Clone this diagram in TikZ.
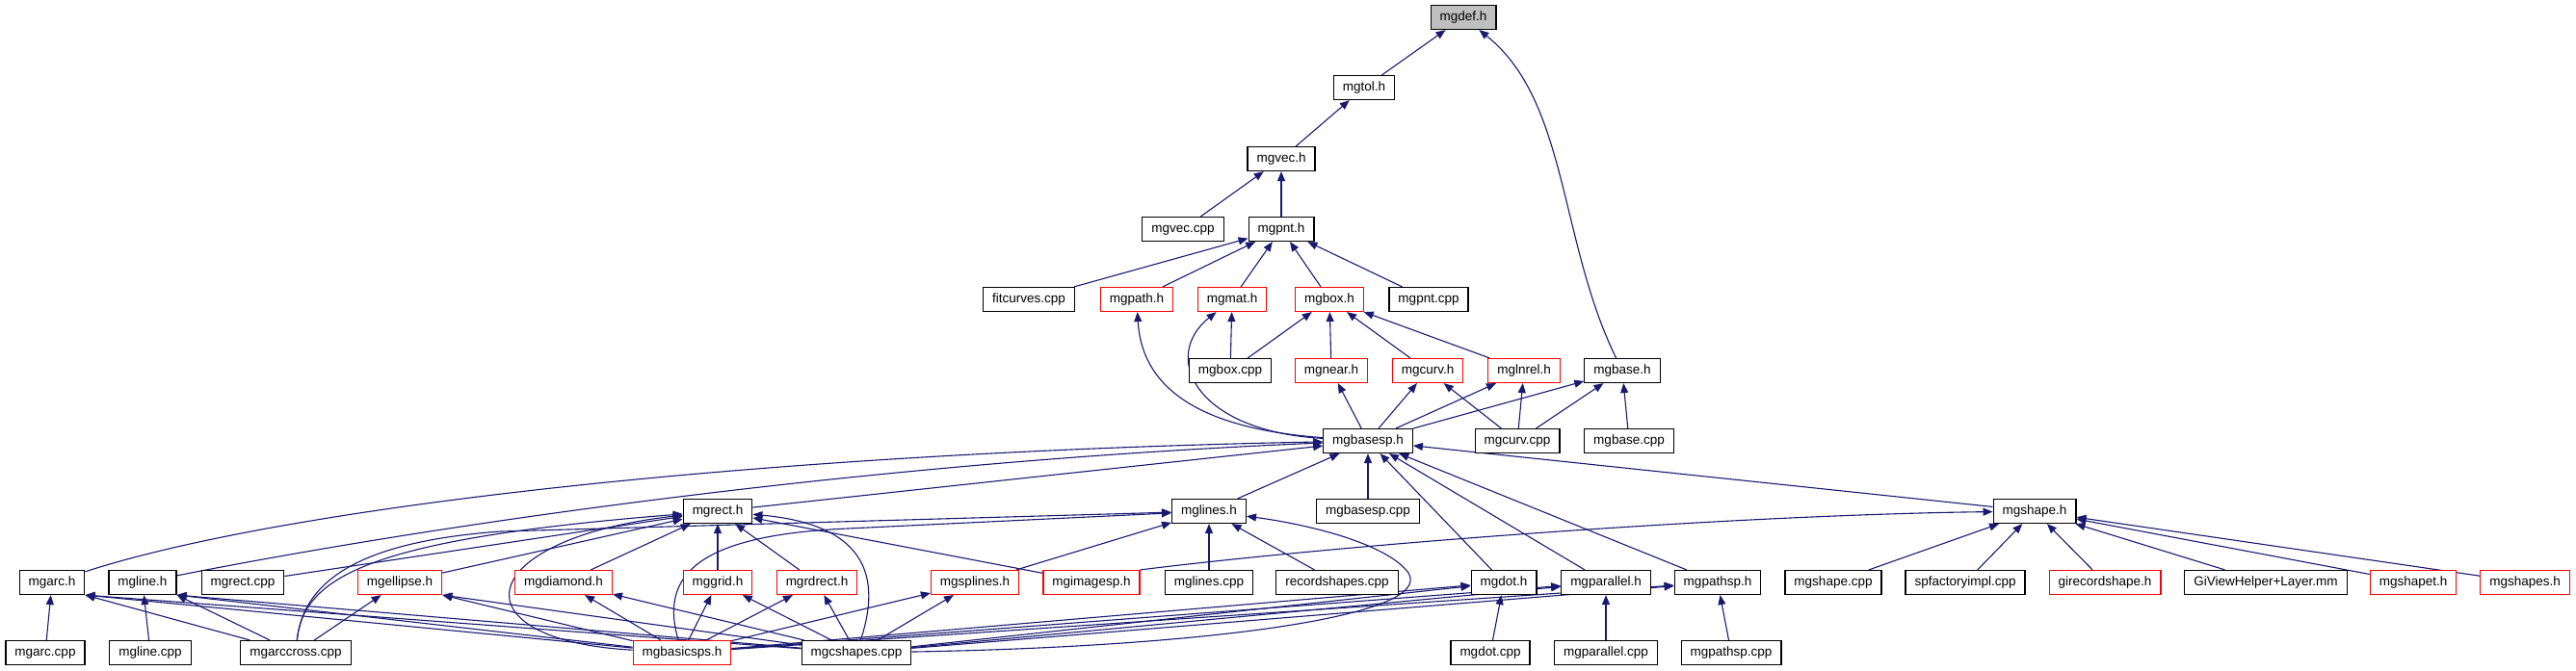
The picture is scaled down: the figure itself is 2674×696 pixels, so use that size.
\documentclass[tikz,border=0pt]{standalone}
\usepackage{fontspec}
\setmainfont{Liberation Sans}
\usetikzlibrary{arrows.meta, backgrounds}
\definecolor{edgeblue}{HTML}{191970}
\definecolor{rootgray}{HTML}{BFBFBF}

\begin{document}
\begin{tikzpicture}[
    x=1pt, y=-1pt,
    file/.style={draw=black, rectangle, fill=white, line width=1.2pt, minimum height=25pt, inner xsep=9.5pt, inner ysep=0pt, text height=10pt, text depth=3pt, font=\fontsize{13.5}{16}\selectfont},
    redfile/.style={file, draw=red},
    edge/.style={-{Triangle[length=10pt,width=8pt]}, draw=edgeblue, fill=none, line width=1.1pt}
]
\useasboundingbox (0,0) rectangle (2674,696);

% Nodes
\node (mgdef) [file, fill=rootgray] at (1519,18) {mgdef.h};
\node (mgtol) [file] at (1416,91) {mgtol.h};
\node (mgvec) [file] at (1330,165) {mgvec.h};
\node (mgveccpp) [file] at (1228,238) {mgvec.cpp};
\node (mgpnt) [file] at (1330,238) {mgpnt.h};

\node (fitcurves) [file] at (1068,311) {fitcurves.cpp};
\node (mgpath) [redfile] at (1180,311) {mgpath.h};
\node (mgmat) [redfile] at (1279,311) {mgmat.h};
\node (mgbox) [redfile] at (1380,311) {mgbox.h};
\node (mgpntcpp) [file] at (1483,311) {mgpnt.cpp};

\node (mgboxcpp) [file] at (1277,385) {mgbox.cpp};
\node (mgnear) [redfile] at (1382,385) {mgnear.h};
\node (mgcurv) [redfile] at (1482,385) {mgcurv.h};
\node (mglnrel) [redfile] at (1582,385) {mglnrel.h};
\node (mgbase) [file] at (1684,385) {mgbase.h};

\node (mgbasesp) [file] at (1420,458) {mgbasesp.h};
\node (mgcurvcpp) [file] at (1575,458) {mgcurv.cpp};
\node (mgbasecpp) [file] at (1691,458) {mgbase.cpp};

\node (mgrect) [file] at (745,531) {mgrect.h};
\node (mglines) [file] at (1255,531) {mglines.h};
\node (mgbasespcpp) [file] at (1420,531) {mgbasesp.cpp};
\node (mgshape) [file] at (2112,531) {mgshape.h};

\node (mgarc) [file] at (54,605) {mgarc.h};
\node (mgline) [file] at (148,605) {mgline.h};
\node (mgrectcpp) [file] at (252,605) {mgrect.cpp};
\node (mgellipse) [redfile] at (415,605) {mgellipse.h};
\node (mgdiamond) [redfile] at (585,605) {mgdiamond.h};
\node (mggrid) [redfile] at (745,605) {mggrid.h};
\node (mgrdrect) [redfile] at (848,605) {mgrdrect.h};
\node (mgsplines) [redfile] at (1012,605) {mgsplines.h};
\node (mgimagesp) [redfile] at (1133,605) {mgimagesp.h};
\node (mglinescpp) [file] at (1255,605) {mglines.cpp};
\node (recordshapes) [file] at (1388,605) {recordshapes.cpp};
\node (mgdot) [file] at (1561,605) {mgdot.h};
\node (mgparallel) [file] at (1667,605) {mgparallel.h};
\node (mgpathsp) [file] at (1783,605) {mgpathsp.h};
\node (mgshapecpp) [file] at (1903,605) {mgshape.cpp};
\node (spfactory) [file] at (2040,605) {spfactoryimpl.cpp};
\node (girecord) [redfile] at (2185,605) {girecordshape.h};
\node (giview) [file] at (2352,605) {GiViewHelper+Layer.mm};
\node (mgshapet) [redfile] at (2505,605) {mgshapet.h};
\node (mgshapes) [redfile] at (2621,605) {mgshapes.h};

\node (mgarccpp) [file] at (47,678) {mgarc.cpp};
\node (mglinecpp) [file] at (156,678) {mgline.cpp};
\node (mgarccross) [file] at (307,678) {mgarccross.cpp};
\node (mgbasicsps) [redfile] at (708,678) {mgbasicsps.h};
\node (mgcshapes) [file] at (889,678) {mgcshapes.cpp};
\node (mgdotcpp) [file] at (1547,678) {mgdot.cpp};
\node (mgparallelcpp) [file] at (1667,678) {mgparallel.cpp};
\node (mgpathspcpp) [file] at (1797,678) {mgpathsp.cpp};

\begin{pgfonlayer}{background}
% Arrows (upper part)
\draw [edge] (mgtol) -- (mgdef);
\draw [edge] (mgbase) .. controls (1618,250) and (1628,105) .. (mgdef);
\draw [edge] (mgvec) -- (mgtol);
\draw [edge] (mgveccpp) -- (mgvec);
\draw [edge] (mgpnt) -- (mgvec);
\draw [edge] (fitcurves) -- (mgpnt);
\draw [edge] (mgpath) -- (mgpnt);
\draw [edge] (mgmat) -- (mgpnt);
\draw [edge] (mgbox) -- (mgpnt);
\draw [edge] (mgpntcpp) -- (mgpnt);
\draw [edge] (mgboxcpp) -- (mgmat);
\draw [edge] (mgboxcpp) -- (mgbox);
\draw [edge] (mgnear) -- (mgbox);
\draw [edge] (mgcurv) -- (mgbox);
\draw [edge] (mglnrel) -- (mgbox);
\draw [edge] (mgbasesp) .. controls (1240,445) and (1185,400) .. (mgpath);
\draw [edge] (mgbasesp) .. controls (1240,448) and (1205,370) .. (mgmat);
\draw [edge] (mgbasesp) -- (mgnear);
\draw [edge] (mgbasesp) -- (mgcurv);
\draw [edge] (mgbasesp) -- (mglnrel);
\draw [edge] (mgbasesp) -- (mgbase);
\draw [edge] (mgcurvcpp) -- (mgcurv);
\draw [edge] (mgcurvcpp) -- (mglnrel);
\draw [edge] (mgcurvcpp) -- (mgbase);
\draw [edge] (mgbasecpp) -- (mgbase);

% Arrows into mgbasesp.h
\draw [edge] (mgarc) .. controls (300,525) and (800,470) .. (mgbasesp);
\draw [edge] (mgline) .. controls (450,545) and (900,480) .. (mgbasesp);
\draw [edge] (mgrect) -- (mgbasesp);
\draw [edge] (mglines) -- (mgbasesp);
\draw [edge] (mgbasespcpp) -- (mgbasesp);
\draw [edge] (mgdot) -- (mgbasesp);
\draw [edge] (mgparallel) -- (mgbasesp);
\draw [edge] (mgpathsp) -- (mgbasesp);
\draw [edge] (mgshape) -- (mgbasesp);

% Arrows into mgrect.h and mglines.h
\draw [edge] (mgrectcpp) -- (mgrect);
\draw [edge] (mgellipse) -- (mgrect);
\draw [edge] (mgdiamond) -- (mgrect);
\draw [edge] (mggrid) -- (mgrect);
\draw [edge] (mgrdrect) -- (mgrect);
\draw [edge] (mgimagesp) -- (mgrect);
\draw [edge] (mgarccross) .. controls (315,600) and (380,560) .. (mgrect);
\draw [edge] (mgbasicsps) .. controls (470,665) and (490,560) .. (mgrect);
\draw [edge] (mgcshapes) .. controls (915,600) and (900,545) .. (mgrect);
\draw [edge] (mgsplines) -- (mglines);
\draw [edge] (mglinescpp) -- (mglines);
\draw [edge] (recordshapes) -- (mglines);
\draw [edge] (mgarccross) .. controls (315,600) and (380,562) .. (520,552) -- (mglines);
\draw [edge] (mgbasicsps) .. controls (685,600) and (720,556) .. (880,549) -- (mglines);
\draw [edge] (mgcshapes) .. controls (1250,672) and (1490,640) .. (1462,595) .. controls (1440,565) and (1360,545) .. (mglines);

% Arrows into mgshape.h
\draw [edge] (mgimagesp.north east) .. controls (1400,565) and (1800,535) .. (mgshape);
\draw [edge] (mgshapecpp) -- (mgshape);
\draw [edge] (spfactory) -- (mgshape);
\draw [edge] (girecord) -- (mgshape);
\draw [edge] (giview) -- (mgshape);
\draw [edge] (mgshapet) -- (mgshape);
\draw [edge] (mgshapes) -- (mgshape);

% Arrows (lower part)
\draw [edge] (mgarccpp) -- (mgarc);
\draw [edge] (mglinecpp) -- (mgline);
\draw [edge] (mgarccross) -- (mgarc.south east);
\draw [edge] (mgarccross) -- (mgline.south east);
\draw [edge] (mgarccross) -- (mgellipse);
\draw [edge] (mgbasicsps) -- (mgarc.south east);
\draw [edge] (mgbasicsps) -- (mgline.south east);
\draw [edge] (mgbasicsps) -- (mgellipse.south east);
\draw [edge] (mgbasicsps) -- (mgdiamond);
\draw [edge] (mgbasicsps) -- (mggrid);
\draw [edge] (mgbasicsps) -- (mgrdrect);
\draw [edge] (mgbasicsps) -- (mgsplines);
\draw [edge] (mgbasicsps) -- (mgdot);
\draw [edge] (mgbasicsps) -- (mgparallel);
\draw [edge] (mgbasicsps) -- (mgpathsp);
\draw [edge] (mgcshapes) -- (mgarc.south east);
\draw [edge] (mgcshapes) -- (mgline.south east);
\draw [edge] (mgcshapes) -- (mgellipse.south east);
\draw [edge] (mgcshapes) -- (mgdiamond);
\draw [edge] (mgcshapes) -- (mggrid);
\draw [edge] (mgcshapes) -- (mgrdrect);
\draw [edge] (mgcshapes) -- (mgsplines);
\draw [edge] (mgcshapes) -- (mgdot);
\draw [edge] (mgcshapes) -- (mgparallel);
\draw [edge] (mgcshapes) -- (mgpathsp);
\draw [edge] (mgdotcpp) -- (mgdot);
\draw [edge] (mgparallelcpp) -- (mgparallel);
\draw [edge] (mgpathspcpp) -- (mgpathsp);
\end{pgfonlayer}

\end{tikzpicture}
\end{document}
